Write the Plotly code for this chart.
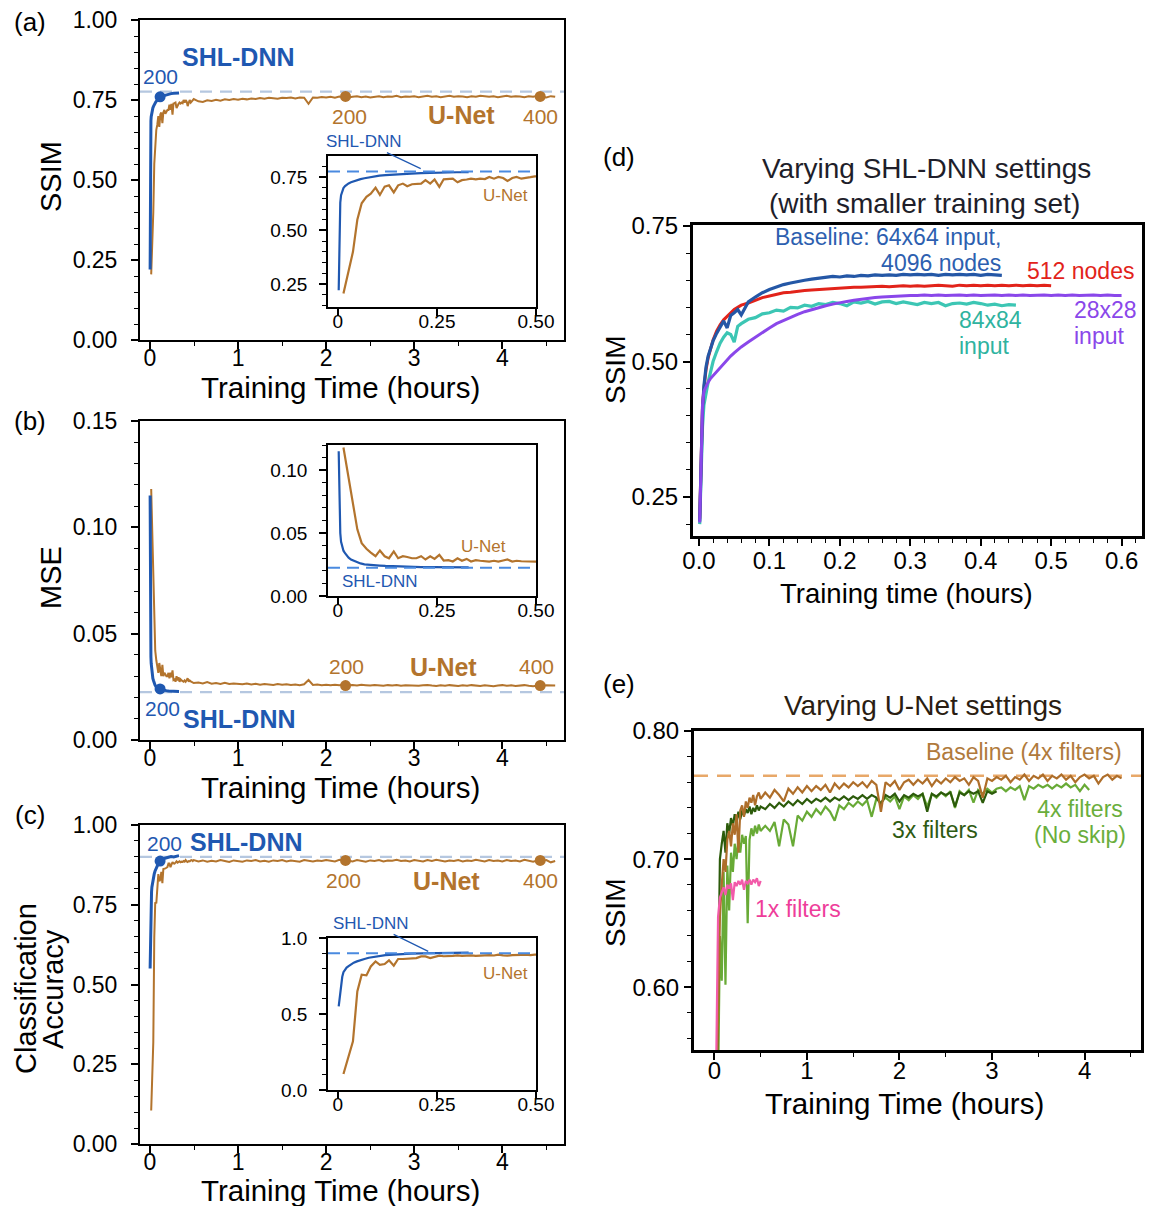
import plotly.graph_objects as go

# page geometry: the browser shows the figure offset by the default 8px body margin
PAGE_W, PAGE_H = 1154, 1206
OX, OY = 8, 8
FW, FH = PAGE_W - OX, PAGE_H - OY
FONT = "Liberation Sans, Arial, Helvetica, sans-serif"

BLUE = "#1f58b1"
BROWN = "#b3742d"
DASH_MAIN = "#b5c7e0"
DASH_INSET = "#4a8ae0"
D_BLUE, D_RED, D_TEAL, D_PURPLE = "#2457a6", "#e2231a", "#3cc6b4", "#8a47ea"
E_BROWN, E_DKGREEN, E_LTGREEN, E_PINK, E_DASH = "#ae6e2a", "#2c5b0b", "#68aa36", "#f25aa9", "#e8a869"

# ---------------------------------------------------------------- data (a)-(c)
unet_t_early = [0.014, 0.026, 0.038, 0.049, 0.060, 0.072, 0.083, 0.095, 0.106, 0.118,
                0.129, 0.141, 0.152, 0.164, 0.175, 0.187, 0.198, 0.210, 0.221, 0.233,
                0.244, 0.256, 0.267, 0.279, 0.290, 0.302, 0.313, 0.325, 0.336, 0.348,
                0.359, 0.371, 0.382, 0.394, 0.405, 0.417, 0.428, 0.440, 0.451, 0.463,
                0.474, 0.486, 0.497]
t_grid_late = [0.55, 0.60, 0.65, 0.70, 0.75, 0.80, 0.85, 0.90, 0.95, 1.00,
               1.05, 1.10, 1.15, 1.20, 1.25, 1.30, 1.35, 1.40, 1.45, 1.50,
               1.55, 1.60, 1.65, 1.70, 1.75, 1.80, 1.85, 1.90, 1.95, 2.00,
               2.05, 2.10, 2.15, 2.20, 2.25, 2.30, 2.35, 2.40, 2.45, 2.50,
               2.55, 2.60, 2.65, 2.70, 2.75, 2.80, 2.85, 2.90, 2.95, 3.00,
               3.05, 3.10, 3.15, 3.20, 3.25, 3.30, 3.35, 3.40, 3.45, 3.50,
               3.55, 3.60, 3.65, 3.70, 3.75, 3.80, 3.85, 3.90, 3.95, 4.00,
               4.05, 4.10, 4.15, 4.20, 4.25, 4.30, 4.35, 4.40, 4.45, 4.50, 4.55, 4.60]

unet_ssim_early = [0.205, 0.30, 0.40, 0.55, 0.627, 0.657, 0.672, 0.700, 0.666, 0.705,
                   0.711, 0.678, 0.711, 0.719, 0.707, 0.716, 0.719, 0.719, 0.735, 0.719,
                   0.738, 0.704, 0.739, 0.740, 0.742, 0.725, 0.735, 0.738, 0.742, 0.739,
                   0.742, 0.740, 0.750, 0.742, 0.750, 0.745, 0.731, 0.745, 0.750, 0.742,
                   0.747, 0.749, 0.753]
unet_ssim_late = [0.746, 0.744, 0.749, 0.747, 0.751, 0.748, 0.752, 0.750, 0.753, 0.751,
                  0.754, 0.752, 0.755, 0.753, 0.756, 0.754, 0.757, 0.755, 0.754, 0.757,
                  0.756, 0.758, 0.755, 0.758, 0.757, 0.738, 0.758, 0.757, 0.759, 0.758,
                  0.760, 0.757, 0.761, 0.759, 0.758, 0.760, 0.762, 0.759, 0.761, 0.758,
                  0.760, 0.762, 0.759, 0.761, 0.760, 0.763, 0.759, 0.761, 0.760, 0.762,
                  0.759, 0.761, 0.763, 0.760, 0.762, 0.759, 0.761, 0.763, 0.760, 0.762,
                  0.761, 0.759, 0.762, 0.760, 0.763, 0.761, 0.760, 0.762, 0.759, 0.761,
                  0.763, 0.760, 0.762, 0.761, 0.759, 0.762, 0.760, 0.763, 0.761, 0.758, 0.762, 0.760]

unet_mse_early = [0.118, 0.095, 0.072, 0.053, 0.042, 0.0375, 0.0345, 0.0316, 0.0362, 0.0316,
                  0.030, 0.0354, 0.030, 0.0316, 0.031, 0.030, 0.030, 0.0316, 0.029, 0.0316,
                  0.0295, 0.0327, 0.0282, 0.0285, 0.0274, 0.030, 0.028, 0.0295, 0.0274, 0.0285,
                  0.028, 0.0278, 0.0274, 0.0280, 0.0274, 0.0282, 0.029, 0.0274, 0.028, 0.0276,
                  0.0274, 0.0272, 0.0268]
unet_mse_late = [0.0270, 0.0266, 0.0272, 0.0265, 0.0268, 0.0264, 0.0269, 0.0263, 0.0266, 0.0264,
                 0.0262, 0.0266, 0.0261, 0.0264, 0.0260, 0.0263, 0.0261, 0.0259, 0.0263, 0.0260,
                 0.0262, 0.0259, 0.0261, 0.0258, 0.0262, 0.0282, 0.0259, 0.0261, 0.0258, 0.0260,
                 0.0257, 0.0260, 0.0258, 0.0261, 0.0257, 0.0259, 0.0256, 0.0260, 0.0258, 0.0256,
                 0.0259, 0.0257, 0.0255, 0.0258, 0.0256, 0.0259, 0.0255, 0.0257, 0.0256, 0.0258,
                 0.0255, 0.0257, 0.0259, 0.0256, 0.0254, 0.0257, 0.0255, 0.0258, 0.0256, 0.0254,
                 0.0257, 0.0255, 0.0258, 0.0256, 0.0254, 0.0257, 0.0255, 0.0253, 0.0256, 0.0258,
                 0.0255, 0.0257, 0.0254, 0.0256, 0.0258, 0.0255, 0.0253, 0.0256, 0.0254, 0.0257, 0.0255, 0.0256]

unet_acc_early = [0.105, 0.209, 0.32, 0.648, 0.758, 0.754, 0.813, 0.846, 0.824, 0.829,
                  0.853, 0.818, 0.862, 0.862, 0.864, 0.866, 0.868, 0.879, 0.879, 0.868,
                  0.876, 0.884, 0.880, 0.879, 0.882, 0.886, 0.882, 0.884, 0.886, 0.883,
                  0.885, 0.884, 0.887, 0.885, 0.890, 0.886, 0.884, 0.887, 0.886, 0.889,
                  0.890, 0.887, 0.890]
unet_acc_late = [0.886, 0.889, 0.885, 0.888, 0.886, 0.890, 0.887, 0.884, 0.889, 0.887,
                 0.885, 0.889, 0.887, 0.890, 0.886, 0.888, 0.885, 0.889, 0.887, 0.890,
                 0.886, 0.889, 0.887, 0.885, 0.890, 0.888, 0.886, 0.889, 0.887, 0.890,
                 0.888, 0.886, 0.891, 0.887, 0.889, 0.886, 0.890, 0.888, 0.885, 0.889,
                 0.887, 0.890, 0.886, 0.889, 0.888, 0.891, 0.887, 0.889, 0.886, 0.890,
                 0.888, 0.886, 0.890, 0.887, 0.891, 0.888, 0.886, 0.889, 0.887, 0.890,
                 0.886, 0.889, 0.887, 0.891, 0.888, 0.886, 0.890, 0.887, 0.889, 0.886,
                 0.890, 0.887, 0.889, 0.886, 0.891, 0.888, 0.885, 0.889, 0.887, 0.890, 0.883, 0.887]

shl_t = [0.002, 0.004, 0.006, 0.008, 0.011, 0.014, 0.018, 0.022, 0.027, 0.033,
         0.040, 0.048, 0.057, 0.067, 0.078, 0.090, 0.105, 0.120, 0.140, 0.160,
         0.185, 0.210, 0.240, 0.270, 0.300, 0.330]
shl_ssim = [0.22, 0.55, 0.63, 0.665, 0.685, 0.698, 0.707, 0.714, 0.720, 0.725,
            0.730, 0.735, 0.740, 0.744, 0.748, 0.752, 0.756, 0.759, 0.762, 0.764,
            0.766, 0.768, 0.770, 0.771, 0.772, 0.772]
shl_mse = [0.115, 0.062, 0.050, 0.043, 0.039, 0.036, 0.034, 0.032, 0.0305, 0.029,
           0.028, 0.0267, 0.0259, 0.0252, 0.0248, 0.0245, 0.0242, 0.0239, 0.0236, 0.0234,
           0.0232, 0.0230, 0.0229, 0.0229, 0.0228, 0.0228]
shl_acc = [0.55, 0.60, 0.66, 0.70, 0.745, 0.775, 0.790, 0.805, 0.815, 0.828,
           0.838, 0.846, 0.855, 0.862, 0.870, 0.876, 0.882, 0.887, 0.891, 0.895,
           0.897, 0.899, 0.901, 0.900, 0.903, 0.904]

# epoch markers (epoch 200 for SHL-DNN; epochs 200 and 400 for U-Net)
shl_mark_t = [0.115]
shl_mark = {"ssim": [0.760], "mse": [0.0240], "acc": [0.887]}
unet_mark_t = [2.22, 4.43]
unet_mark = {"ssim": [0.761, 0.761], "mse": [0.0256, 0.0256], "acc": [0.889, 0.889]}
# SHL-DNN final (reference) levels
shl_level = {"ssim": 0.776, "mse": 0.0225, "acc": 0.900}

# ---------------------------------------------------------------- data (d)
d_t = [0.001, 0.003, 0.005, 0.007, 0.010, 0.013, 0.016, 0.020, 0.025, 0.030,
       0.035, 0.040, 0.045, 0.050, 0.055, 0.060,
       0.07, 0.08, 0.09, 0.10, 0.11, 0.12, 0.13, 0.14, 0.15, 0.16,
       0.17, 0.18, 0.19, 0.20, 0.21, 0.22, 0.23, 0.24, 0.25, 0.26,
       0.27, 0.28, 0.29, 0.30, 0.31, 0.32, 0.33, 0.34, 0.35, 0.36,
       0.37, 0.38, 0.39, 0.40, 0.41, 0.42, 0.43, 0.44, 0.45, 0.46,
       0.47, 0.48, 0.49, 0.50, 0.51, 0.52, 0.53, 0.54, 0.55, 0.56,
       0.57, 0.58, 0.59, 0.60]
d_baseline = [0.205, 0.33, 0.41, 0.455, 0.490, 0.510, 0.524, 0.538, 0.552, 0.565,
              0.575, 0.562, 0.585, 0.590, 0.596, 0.586,
              0.610, 0.619, 0.627, 0.633, 0.638, 0.642, 0.645, 0.648, 0.650, 0.652,
              0.654, 0.655, 0.657, 0.656, 0.658, 0.657, 0.659, 0.658, 0.660, 0.659,
              0.660, 0.659, 0.661, 0.660, 0.661, 0.660, 0.661, 0.659, 0.661, 0.660,
              0.661, 0.660, 0.661, 0.659, 0.661, 0.660, 0.659]
d_512 = [0.21, 0.34, 0.42, 0.450, 0.485, 0.507, 0.522, 0.540, 0.556, 0.568,
         0.577, 0.584, 0.590, 0.596, 0.600, 0.604,
         0.608, 0.613, 0.618, 0.621, 0.624, 0.627, 0.628, 0.630, 0.631, 0.632,
         0.633, 0.634, 0.635, 0.635, 0.636, 0.637, 0.637, 0.638, 0.638, 0.639,
         0.638, 0.639, 0.640, 0.639, 0.640, 0.639, 0.640, 0.641, 0.640, 0.639,
         0.641, 0.640, 0.641, 0.640, 0.641, 0.640, 0.641, 0.640, 0.641, 0.640,
         0.641, 0.640, 0.641, 0.640]
d_84 = [0.20, 0.30, 0.38, 0.42, 0.445, 0.462, 0.478, 0.500, 0.518, 0.534,
        0.545, 0.553, 0.550, 0.536, 0.565, 0.570,
        0.578, 0.581, 0.588, 0.590, 0.595, 0.593, 0.600, 0.599, 0.604, 0.602,
        0.607, 0.605, 0.609, 0.607, 0.603, 0.610, 0.608, 0.611, 0.606, 0.610,
        0.611, 0.607, 0.610, 0.608, 0.605, 0.609, 0.607, 0.609, 0.603, 0.607,
        0.608, 0.606, 0.609, 0.607, 0.604, 0.606, 0.603, 0.605, 0.604]
d_28 = [0.203, 0.32, 0.42, 0.445, 0.455, 0.462, 0.468, 0.474, 0.481, 0.489,
        0.496, 0.503, 0.510, 0.516, 0.522, 0.527,
        0.536, 0.545, 0.554, 0.562, 0.570, 0.576, 0.582, 0.587, 0.592, 0.596,
        0.600, 0.603, 0.606, 0.609, 0.611, 0.613, 0.615, 0.617, 0.618, 0.619,
        0.620, 0.621, 0.621, 0.622, 0.622, 0.623, 0.622, 0.623, 0.622, 0.623,
        0.623, 0.622, 0.623, 0.622, 0.623, 0.623, 0.622, 0.623, 0.622, 0.623,
        0.622, 0.623, 0.623, 0.622, 0.623, 0.622, 0.623, 0.622, 0.623, 0.623,
        0.622, 0.623, 0.622, 0.622]

# ---------------------------------------------------------------- data (e)
e_t_early = [0.02, 0.04, 0.06, 0.08, 0.10, 0.12, 0.14, 0.16, 0.18, 0.20,
             0.22, 0.24, 0.26, 0.28, 0.30, 0.32, 0.34, 0.36, 0.38, 0.40,
             0.42, 0.44, 0.46, 0.48, 0.50]
e_base_early = [0.50, 0.58, 0.655, 0.680, 0.700, 0.690, 0.715, 0.722, 0.710, 0.728,
                0.719, 0.735, 0.705, 0.738, 0.742, 0.733, 0.745, 0.740, 0.748, 0.744,
                0.750, 0.742, 0.749, 0.752, 0.747]
e_base_late = [0.752, 0.748, 0.754, 0.750, 0.745, 0.755, 0.751, 0.756, 0.752, 0.757,
               0.753, 0.757, 0.754, 0.758, 0.752, 0.759, 0.755, 0.759, 0.756, 0.760,
               0.757, 0.760, 0.756, 0.761, 0.758, 0.737, 0.760, 0.757, 0.761, 0.754,
               0.760, 0.762, 0.758, 0.762, 0.759, 0.763, 0.757, 0.762, 0.759, 0.763,
               0.760, 0.764, 0.761, 0.763, 0.758, 0.764, 0.761, 0.748, 0.763, 0.761,
               0.764, 0.762, 0.765, 0.760, 0.764, 0.762, 0.766, 0.761, 0.765, 0.763,
               0.766, 0.761, 0.765, 0.763, 0.766, 0.762, 0.765, 0.760, 0.764, 0.766,
               0.763, 0.765, 0.759, 0.764, 0.766, 0.762, 0.765, 0.763]
e_3x_early = [0.48, 0.60, 0.700, 0.712, 0.722, 0.705, 0.728, 0.720, 0.732, 0.726,
              0.735, 0.729, 0.737, 0.731, 0.738, 0.734, 0.739, 0.736, 0.741, 0.735,
              0.740, 0.737, 0.742, 0.738, 0.741]
e_3x_late = [0.739, 0.743, 0.740, 0.744, 0.741, 0.745, 0.742, 0.746, 0.743, 0.747,
             0.744, 0.747, 0.745, 0.748, 0.745, 0.748, 0.746, 0.749, 0.746, 0.749,
             0.747, 0.750, 0.747, 0.750, 0.748, 0.743, 0.750, 0.748, 0.751, 0.745,
             0.750, 0.748, 0.751, 0.749, 0.751, 0.737, 0.751, 0.749, 0.752, 0.750,
             0.752, 0.741, 0.752, 0.750, 0.753, 0.751, 0.753, 0.744, 0.753, 0.751,
             0.753]
e_4xns_early = [0.45, 0.52, 0.640, 0.605, 0.690, 0.602, 0.695, 0.660, 0.705, 0.690,
                0.712, 0.700, 0.716, 0.705, 0.719, 0.712, 0.718, 0.650, 0.715, 0.724,
                0.718, 0.726, 0.720, 0.727, 0.722]
e_4xns_late = [0.726, 0.722, 0.729, 0.710, 0.731, 0.727, 0.710, 0.734, 0.730, 0.737,
               0.733, 0.739, 0.735, 0.741, 0.737, 0.730, 0.742, 0.739, 0.744, 0.741,
               0.745, 0.742, 0.746, 0.733, 0.747, 0.744, 0.748, 0.745, 0.749, 0.739,
               0.749, 0.746, 0.750, 0.747, 0.751, 0.741, 0.751, 0.748, 0.752, 0.749,
               0.753, 0.740, 0.753, 0.750, 0.754, 0.744, 0.754, 0.751, 0.755, 0.752,
               0.755, 0.756, 0.753, 0.756, 0.754, 0.757, 0.746, 0.757, 0.755, 0.758,
               0.756, 0.758, 0.755, 0.758, 0.756, 0.759, 0.756, 0.758, 0.753, 0.758,
               0.754]
e_1x = [0.54, 0.655, 0.670, 0.675, 0.678, 0.672, 0.680, 0.677, 0.681, 0.668,
        0.682, 0.679, 0.683, 0.680, 0.684, 0.676, 0.683, 0.681, 0.684, 0.680,
        0.684, 0.682, 0.685, 0.679, 0.683]
e_baseline_level = 0.765

# ---------------------------------------------------------------- helpers
fig = go.Figure()


def xd(p0, p1):
    return [(p0 - OX) / FW, (p1 - OX) / FW]


def yd(top, bottom):
    return [1 - (bottom - OY) / FH, 1 - (top - OY) / FH]


def line(x, y, xa, ya, color, width):
    fig.add_trace(go.Scatter(x=x, y=y, xaxis=xa, yaxis=ya, mode="lines",
                             line=dict(color=color, width=width),
                             showlegend=False, hoverinfo="skip"))


def dots(x, y, xa, ya, color):
    fig.add_trace(go.Scatter(x=x, y=y, xaxis=xa, yaxis=ya, mode="markers",
                             marker=dict(color=color, size=11, line=dict(width=0)),
                             showlegend=False, hoverinfo="skip"))


def axis(dom, rng, anchor, lw, tfs, dtick=None, fmt=None, minor=None,
         tickvals=None, ticktext=None, so=0):
    d = dict(domain=dom, range=rng, anchor=anchor, showline=True, linecolor="black",
             linewidth=lw, mirror=True, ticks="outside", ticklen=7, tickwidth=1.5,
             tickcolor="black", showgrid=False, zeroline=False, automargin=False,
             ticklabelstandoff=so, ticklabeloverflow="allow",
             tickfont=dict(size=tfs, color="black", family=FONT))
    if tickvals is not None:
        d.update(tickmode="array", tickvals=tickvals, ticktext=ticktext)
    else:
        d.update(tickmode="linear", tick0=0, dtick=dtick)
    if fmt:
        d["tickformat"] = fmt
    if minor:
        d["minor"] = dict(tick0=0, dtick=minor, ticks="outside", ticklen=4,
                          tickwidth=1.2, tickcolor="black", showgrid=False)
    return d


annotations = []
shapes = []


def txt(text, x, y, xref="paper", yref="paper", size=20, color="black",
        xanchor="center", yanchor="middle", angle=0, bold=False, align="center"):
    if xref == "paper":
        x = (x - OX) / FW
    if yref == "paper":
        y = 1 - (y - OY) / FH
    annotations.append(dict(text=("<b>%s</b>" % text) if bold else text, x=x, y=y,
                            xref=xref, yref=yref, showarrow=False, textangle=angle,
                            xanchor=xanchor, yanchor=yanchor, align=align,
                            font=dict(size=size, color=color, family=FONT)))


def two_lines(l1, l2, x, y, xref, yref, color, xanchor="center", align="center",
              fs=23, step=26):
    # tight line spacing as in the reference: the base size sets the line step
    text = ('<span style="font-size:%dpx">%s</span><br>'
            '<span style="font-size:%dpx">%s</span>' % (fs, l1, fs, l2))
    txt(text, x, y, xref, yref, step / 1.3, color, xanchor=xanchor, align=align)


def hline(level, xref, yref, color, width, dash, layer="below"):
    shapes.append(dict(type="line", xref=xref + " domain", x0=0, x1=1, yref=yref,
                       y0=level, y1=level, layer=layer,
                       line=dict(color=color, width=width, dash=dash)))


# ---------------------------------------------------------------- panels (a)-(c)
unet_t = unet_t_early + t_grid_late
panels = [
    ("ssim", "x", "y", "x2", "y2", unet_ssim_early + unet_ssim_late, shl_ssim),
    ("mse", "x3", "y3", "x4", "y4", unet_mse_early + unet_mse_late, shl_mse),
    ("acc", "x5", "y5", "x6", "y6", unet_acc_early + unet_acc_late, shl_acc),
]
for key, mx, my, ix, iy, un, sh in panels:
    hline(shl_level[key], mx, my, DASH_MAIN, 2.2, "12px,8px")
    line(unet_t, un, mx, my, BROWN, 2)
    line(shl_t, sh, mx, my, BLUE, 3)
    dots(shl_mark_t, shl_mark[key], mx, my, BLUE)
    dots(unet_mark_t, unet_mark[key], mx, my, BROWN)
    line(unet_t, un, ix, iy, BROWN, 2.2)
    line(shl_t, sh, ix, iy, BLUE, 2.2)
    hline(shl_level[key], ix, iy, DASH_INSET, 2, "12px,7px", layer="above")

main_x_dom = xd(140, 564)
inset_x_dom = xd(328, 536)
main_x_rng = [-0.113, 4.70]
inset_x_rng = [-0.025, 0.5]
inset_xt = dict(tickvals=[0, 0.25, 0.5], ticktext=["0", "0.25", "0.50"], so=-11)

layout_axes = dict(
    xaxis=axis(main_x_dom, main_x_rng, "y", 2, 23, dtick=1, minor=0.5, so=-11),
    yaxis=axis(yd(20, 340), [0, 1], "x", 2, 23, dtick=0.25, fmt=".2f", minor=0.05, so=9),
    xaxis2=axis(inset_x_dom, inset_x_rng, "y2", 1.8, 19, **inset_xt),
    yaxis2=axis(yd(156, 307), [0.142, 0.848], "x2", 1.8, 19, dtick=0.25, fmt=".2f",
                minor=0.05, so=8),
    xaxis3=axis(main_x_dom, main_x_rng, "y3", 2, 23, dtick=1, minor=0.5, so=-11),
    yaxis3=axis(yd(421, 740), [0, 0.15], "x3", 2, 23, dtick=0.05, fmt=".2f", minor=0.01, so=9),
    xaxis4=axis(inset_x_dom, inset_x_rng, "y4", 1.8, 19, **inset_xt),
    yaxis4=axis(yd(445, 596), [0, 0.12], "x4", 1.8, 19,
                tickvals=[0, 0.05, 0.10], ticktext=["0.00", "0.05", "0.10"], minor=0.01, so=8),
    xaxis5=axis(main_x_dom, main_x_rng, "y5", 2, 23, dtick=1, minor=0.5, so=-11),
    yaxis5=axis(yd(825, 1144), [0, 1], "x5", 2, 23, dtick=0.25, fmt=".2f", minor=0.05, so=9),
    xaxis6=axis(inset_x_dom, inset_x_rng, "y6", 1.8, 19, **inset_xt),
    yaxis6=axis(yd(938, 1090), [0, 1.0], "x6", 1.8, 19,
                tickvals=[0, 0.5, 1.0], ticktext=["0.0", "0.5", "1.0"], minor=0.1, so=8),
    xaxis7=axis(xd(693, 1142), [-0.0085, 0.629], "y7", 3, 24, dtick=0.1, fmt=".1f",
                minor=0.02, so=-6),
    yaxis7=axis(yd(225, 536), [0.178, 0.752], "x7", 3, 24, dtick=0.25, fmt=".2f", minor=0.05),
    xaxis8=axis(xd(694, 1141), [-0.22, 4.61], "y8", 3, 24, dtick=1, minor=0.5, so=-10),
    yaxis8=axis(yd(731, 1050), [0.551, 0.80], "x8", 3, 24, dtick=0.1, fmt=".2f", minor=0.02),
)

# ---------------------------------------------------------------- panel (d)
line(d_t[:len(d_84)], d_84, "x7", "y7", D_TEAL, 3.2)
line(d_t[:len(d_512)], d_512, "x7", "y7", D_RED, 3)
line(d_t[:len(d_baseline)], d_baseline, "x7", "y7", D_BLUE, 3.2)
line(d_t[:len(d_28)], d_28, "x7", "y7", D_PURPLE, 3)

# ---------------------------------------------------------------- panel (e)
hline(e_baseline_level, "x8", "y8", E_DASH, 2.5, "14px,9px")
line(e_t_early + t_grid_late[:len(e_4xns_late)], e_4xns_early + e_4xns_late, "x8", "y8", E_LTGREEN, 2.2)
line(e_t_early + t_grid_late[:len(e_3x_late)], e_3x_early + e_3x_late, "x8", "y8", E_DKGREEN, 2.2)
line(e_t_early + t_grid_late[:len(e_base_late)], e_base_early + e_base_late, "x8", "y8", E_BROWN, 2.2)
line(e_t_early, e_1x, "x8", "y8", E_PINK, 2.2)

# ---------------------------------------------------------------- text
for lab, py in [("(a)", 22), ("(b)", 421), ("(c)", 815)]:
    txt(lab, 30, py, size=26)
txt("(d)", 619, 157, size=26)
txt("(e)", 619, 684, size=26)

txt("SSIM", 51, 177, size=29, angle=-90)
txt("MSE", 51, 578, size=29, angle=-90)
txt("Classification", 26, 989, size=29, angle=-90)
txt("Accuracy", 53, 989, size=29, angle=-90)
for py in (387, 788, 1190):
    txt("Training Time (hours)", 340, py, size=29.5)

txt("Varying SHL-DNN settings", 926, 168, size=28, color="#1e1e2a")
txt("(with smaller training set)", 924, 203, size=28, color="#1e1e2a")
txt("SSIM", 615, 370, size=28, angle=-90)
txt("Training time (hours)", 906, 593, size=27.5)
txt("Varying U-Net settings", 923, 705, size=28, color="#2a1d12")
txt("SSIM", 615, 913, size=28, angle=-90)
txt("Training Time (hours)", 904, 1103, size=29.5)

# (a) in-plot labels
txt("SHL-DNN", 1.005, 0.884, "x", "y", 25, BLUE, bold=True)
txt("200", 0.124, 0.824, "x", "y", 21, BLUE)
txt("200", 2.26, 0.697, "x", "y", 21, BROWN)
txt("U-Net", 3.54, 0.702, "x", "y", 25, BROWN, bold=True)
txt("400", 4.43, 0.697, "x", "y", 21, BROWN)
# (b)
txt("200", 0.147, 0.0149, "x3", "y3", 21, BLUE)
txt("SHL-DNN", 1.02, 0.0099, "x3", "y3", 25, BLUE, bold=True)
txt("200", 2.23, 0.0345, "x3", "y3", 21, BROWN)
txt("U-Net", 3.33, 0.0345, "x3", "y3", 25, BROWN, bold=True)
txt("400", 4.39, 0.0345, "x3", "y3", 21, BROWN)
# (c)
txt("200", 0.16, 0.943, "x5", "y5", 21, BLUE)
txt("SHL-DNN", 1.10, 0.948, "x5", "y5", 25, BLUE, bold=True)
txt("200", 2.195, 0.826, "x5", "y5", 21, BROWN)
txt("U-Net", 3.37, 0.826, "x5", "y5", 25, BROWN, bold=True)
txt("400", 4.43, 0.826, "x5", "y5", 21, BROWN)

# inset labels
txt("U-Net", 0.422, 0.665, "x2", "y2", 17, BROWN)
txt("U-Net", 0.368, 0.039, "x4", "y4", 17, BROWN)
txt("SHL-DNN", 0.107, 0.0117, "x4", "y4", 17, BLUE)
txt("U-Net", 0.422, 0.769, "x6", "y6", 17, BROWN)
for xa, ya, px_, py_, ax_, ay_ in [("x2", "y2", 0.209, 0.789, -57, -27),
                                    ("x6", "y6", 0.228, 0.912, -57, -28)]:
    annotations.append(dict(text="SHL-DNN", x=px_, y=py_, xref=xa, yref=ya,
                            showarrow=True, arrowhead=0, arrowwidth=1.2, arrowcolor=BLUE,
                            ax=ax_, ay=ay_, standoff=0,
                            font=dict(size=17, color=BLUE, family=FONT)))

# (d) labels
two_lines("Baseline: 64x64 input,", "4096 nodes", 0.432, 0.705, "x7", "y7", "#2d5fb0",
          xanchor="right", align="right")
txt("512 nodes", 0.542, 0.667, "x7", "y7", 23, D_RED)
two_lines("84x84", "input", 0.367, 0.552, "x7", "y7", "#2fb3a0", xanchor="left", align="left")
two_lines("28x28", "input", 0.530, 0.572, "x7", "y7", D_PURPLE, xanchor="left", align="left")

# (e) labels
txt("Baseline (4x filters)", 4.43, 0.784, "x8", "y8", 23, "#b07a3c", xanchor="right")
txt("3x filters", 2.38, 0.723, "x8", "y8", 23, "#2e5a12")
two_lines("4x filters", "(No skip)", 3.95, 0.729, "x8", "y8", "#6aae3c")
txt("1x filters", 0.907, 0.661, "x8", "y8", 23, "#ee3d9a")

fig.update_layout(
    width=FW, height=FH, margin=dict(l=0, r=0, t=0, b=0, autoexpand=False),
    paper_bgcolor="white", plot_bgcolor="white",
    font=dict(family=FONT, color="black"),
    showlegend=False, annotations=annotations, shapes=shapes,
    **layout_axes,
)

fig.write_html("out.html")
